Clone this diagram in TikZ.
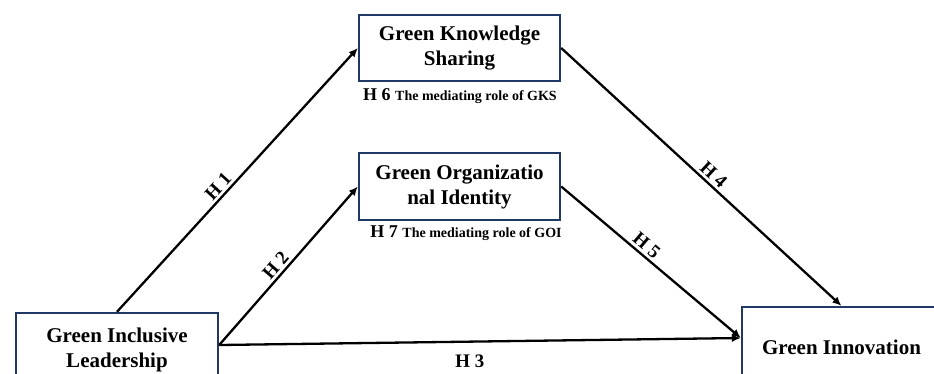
\documentclass[tikz,border=0pt]{standalone}
\usepackage{fontspec}
\setmainfont{Liberation Serif}
\usetikzlibrary{arrows.meta}
\definecolor{boxblue}{HTML}{1F3864}
\begin{document}
\begin{tikzpicture}[x=1pt,y=-1pt,
  construct/.style={draw=boxblue, line width=2.4pt, rectangle, inner sep=0pt,
    align=center, font=\fontsize{21}{25}\selectfont\bfseries},
  link/.style={line width=2.3pt, -{Latex[length=9pt,width=8pt]}},
  hyp/.style={font=\fontsize{19}{21}\selectfont\bfseries, sloped, inner sep=2.5pt},
  note/.style={anchor=base, inner sep=0pt}
]
\useasboundingbox (0,0) rectangle (934,373);
\clip (0,0) rectangle (934,373);
\fill[white] (0,0) rectangle (934,373);

% constructs
\node[construct, minimum width=201pt, minimum height=66pt] (gks) at (459.5,48) {Green Knowledge\\Sharing};
\node[construct, minimum width=201pt, minimum height=67pt] (goi) at (459.5,186.5) {Green Organizatio\\nal Identity};
\node[construct, minimum width=202pt, minimum height=74pt] (gil) at (117,350) {Green Inclusive\\Leadership};
\node[construct, minimum width=199pt, minimum height=80pt] (gi) at (841.5,347) {Green Innovation};

% end points of the direct paths
\coordinate (gilout) at ([yshift=5pt]gil.east);
\coordinate (giin) at ([yshift=9pt]gi.west);

% hypothesised paths
\draw[link] (gil.north) -- node[hyp, above, pos=0.45] {H 1} (gks.west);
\draw[link] (gilout) -- node[hyp, above, pos=0.46] {H 2} (goi.west);
\draw[link] (gilout) -- node[hyp, below=12pt, inner sep=0pt, pos=0.48] {H 3} (giin);
\draw[link] (gks.east) -- node[hyp, above, pos=0.52] {H 4} (gi.north);
\draw[link] (goi.east) -- node[hyp, above, pos=0.44] {H 5} (giin);

% mediation hypotheses
\node[note] (h6) at (460,100) {\bfseries\fontsize{18}{20}\selectfont H 6 \fontsize{14}{16}\selectfont The mediating role of GKS};
\node[note] (h7) at (466,237) {\bfseries\fontsize{18}{20}\selectfont H 7 \fontsize{14}{16}\selectfont The mediating role of GOI};
\end{tikzpicture}
\end{document}
